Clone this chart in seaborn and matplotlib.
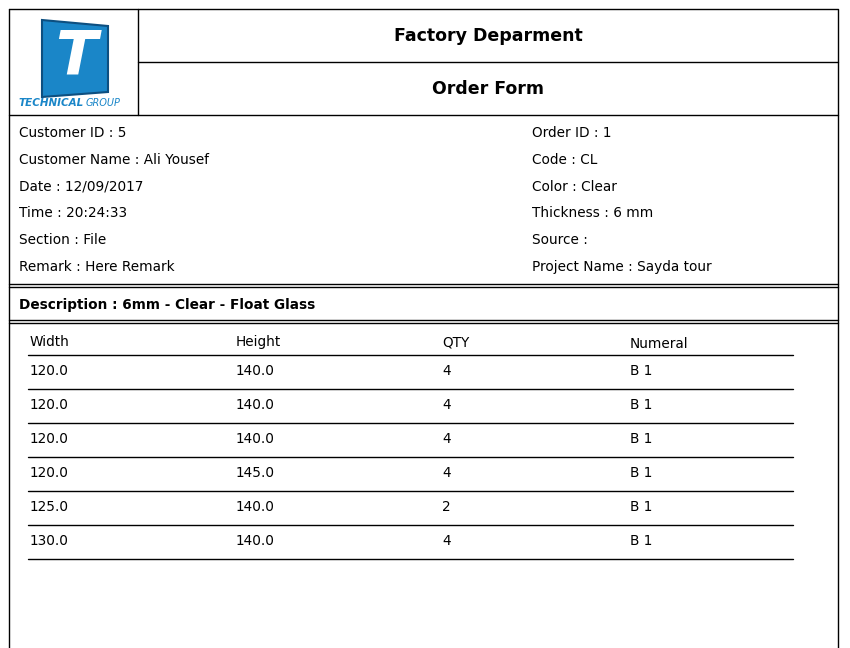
import matplotlib
matplotlib.use("Agg")
import matplotlib.pyplot as plt
import seaborn as sns
from matplotlib.patches import Polygon

sns.set_style("white")
plt.rcParams['font.family'] = ['DejaVu Sans']
plt.rcParams['text.color'] = 'black'

# header data
title = "Factory Deparment"
subtitle = "Order Form"
left_fields = ["Customer ID : 5", "Customer Name : Ali Yousef", "Date : 12/09/2017",
               "Time : 20:24:33", "Section : File", "Remark : Here Remark"]
right_fields = ["Order ID : 1", "Code : CL", "Color : Clear",
                "Thickness : 6 mm", "Source :", "Project Name : Sayda tour"]
description = "Description : 6mm - Clear - Float Glass"

# table data
columns = ["Width", "Height", "QTY", "Numeral"]
widths = ["120.0", "120.0", "120.0", "120.0", "125.0", "130.0"]
heights = ["140.0", "140.0", "140.0", "145.0", "140.0", "140.0"]
qtys = ["4", "4", "4", "4", "2", "4"]
numerals = ["B 1", "B 1", "B 1", "B 1", "B 1", "B 1"]

fig = plt.figure(figsize=(8.5, 6.48), dpi=100)
ax = fig.add_axes([0, 0, 1, 1])
ax.set_xlim(0, 850)
ax.set_ylim(648, 0)
ax.axis("off")

lw = 1.0
k = "black"
fs = 9.8
# outer frame
ax.plot([9, 838, 838], [9, 9, 660], color=k, lw=lw)
ax.plot([9, 9], [9, 660], color=k, lw=lw)
ax.plot([138, 138], [9, 115], color=k, lw=lw)
ax.plot([138, 838], [62, 62], color=k, lw=lw)
for y in [115, 284, 287, 320, 323]:
    ax.plot([9, 838], [y, y], color=k, lw=lw)

# logo
ax.add_patch(Polygon([[42, 20], [108, 26], [108, 92], [42, 97]], closed=True,
                     facecolor="#1a86c8", edgecolor="#0d4f80", lw=1.5))
ax.text(76, 58, "T", fontsize=44, color="white", ha="center", va="center",
        fontweight="bold", style="italic")
ax.text(19, 103, "TECHNICAL", fontsize=7.5, color="#1a86c8", fontweight="bold",
        style="italic", va="center")
ax.text(86, 103, "GROUP", fontsize=7, color="#1a86c8", style="italic", va="center")

ax.text(488, 36, title, fontsize=12.5, ha="center", va="center", fontweight="semibold")
ax.text(488, 89, subtitle, fontsize=12.5, ha="center", va="center", fontweight="semibold")

for i, (l, r) in enumerate(zip(left_fields, right_fields)):
    y = 133 + i * 26.8
    ax.text(19, y, l, fontsize=fs, va="center")
    ax.text(532, y, r, fontsize=fs, va="center")

ax.text(19, 305, description, fontsize=fs, va="center", fontweight="semibold")

xcols = [30, 236, 442, 630]
for x, c, dy in zip(xcols, columns, [0, 0, 0, 2]):
    ax.text(x, 342 + dy, c, fontsize=fs, va="center")
ax.plot([28, 793], [355, 355], color=k, lw=lw)
for i, row in enumerate(zip(widths, heights, qtys, numerals)):
    y = 371 + i * 34
    for x, v in zip(xcols, row):
        ax.text(x, y, v, fontsize=fs, va="center")
    ax.plot([28, 793], [y + 18, y + 18], color=k, lw=lw)

fig.savefig("out.png", dpi=100)
